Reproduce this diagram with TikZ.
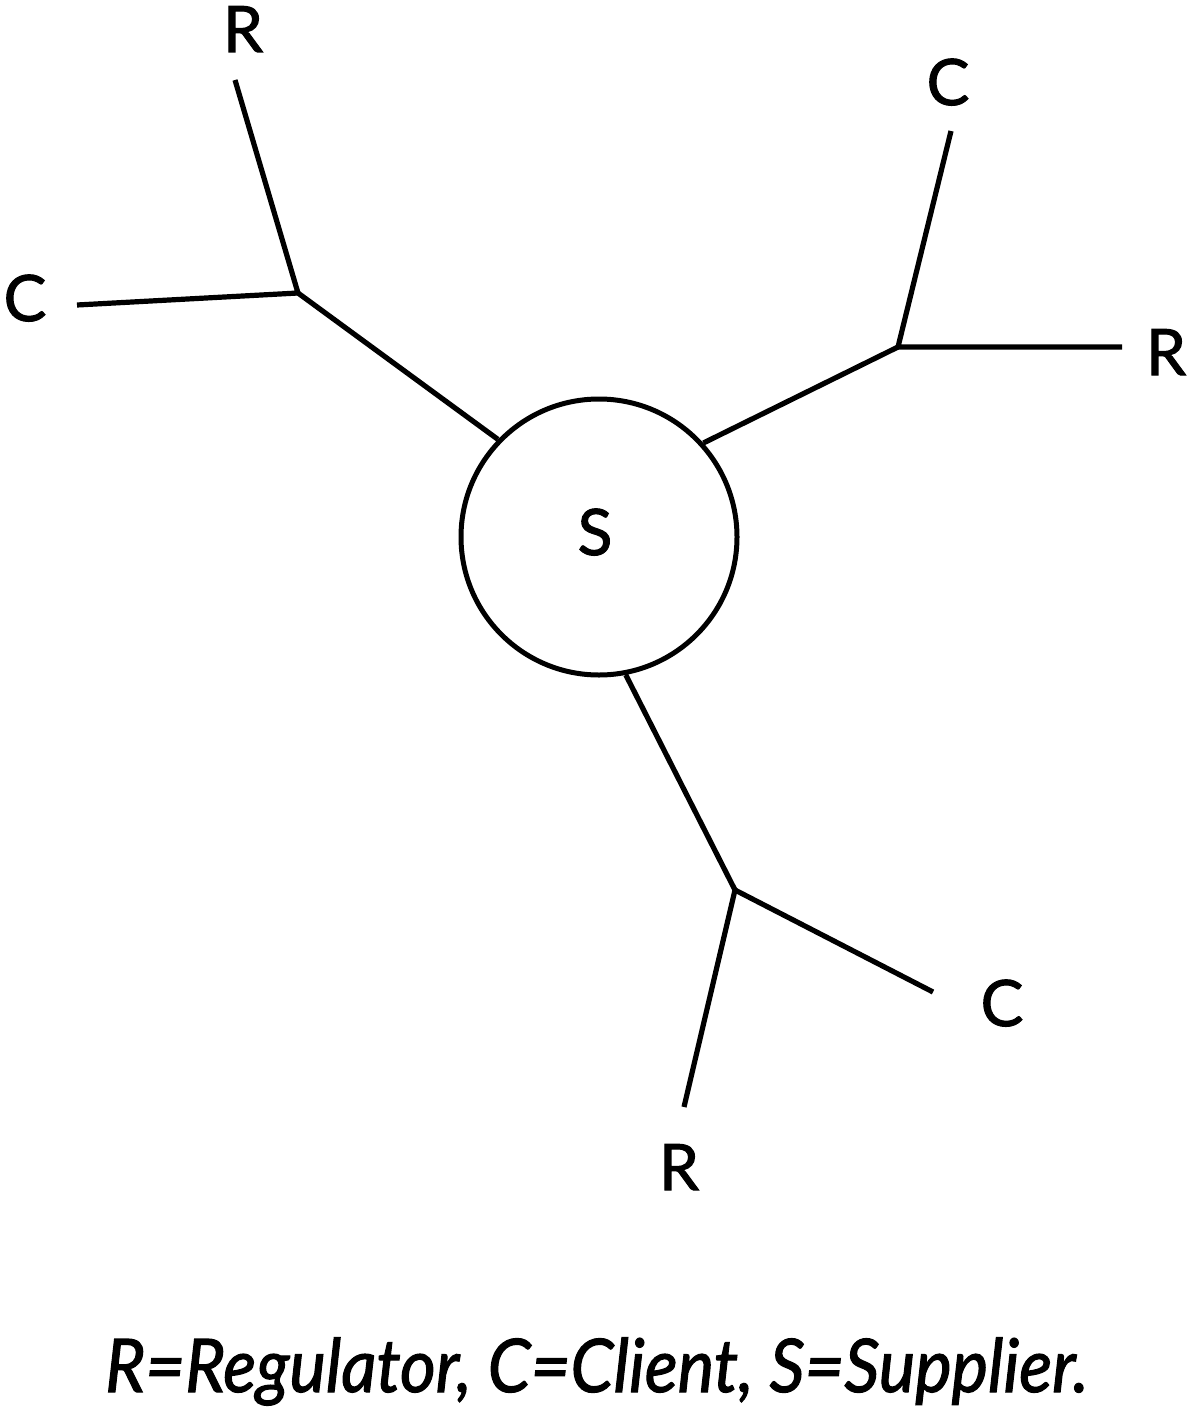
\documentclass[tikz,border=0pt]{standalone}
\usepackage{fontspec}
\usepackage{graphicx}
\setmainfont{Lato}
\newfontfamily\lblfont[FakeBold=1.6]{Lato}
\begin{document}
\begin{tikzpicture}[x=1pt,y=-1pt,
  lbl/.style={anchor=base,inner sep=0pt,font=\lblfont\fontsize{64}{70}\selectfont},
  edge/.style={line width=5.2pt,line cap=butt},
  hub/.style={circle,draw,line width=5pt,minimum size=276pt,inner sep=0pt}]
\useasboundingbox (0,0) rectangle (1190,1410);
% centre
\node[hub] (S) at (599,537) {};
\node[lbl] (Slbl) at (595,555) {S};
% junctions
\coordinate (j1) at (298,293);
\coordinate (j2) at (898,347);
\coordinate (j3) at (735,890);
% free ends
\coordinate (e1r) at (235,80);
\coordinate (e1c) at (77,305);
\coordinate (e2c) at (951,131);
\coordinate (e2r) at (1122,347);
\coordinate (e3c) at (933,992);
\coordinate (e3r) at (684,1107);
% labels
\node[lbl] (r1) at (243,52) {R};
\node[lbl] (c1) at (25,321) {C};
\node[lbl] (c2) at (948,105) {C};
\node[lbl] (r2) at (1166,375) {R};
\node[lbl] (c3) at (1002,1026) {C};
\node[lbl] (r3) at (679,1190) {R};
% connectors
\draw[edge] (S.136.4) -- (j1);
\draw[edge] (e1r) -- (j1) -- (e1c);
\draw[edge] (S.42.7) -- (j2);
\draw[edge] (e2c) -- (j2) -- (e2r);
\draw[edge] (S.-79.2) -- (j3);
\draw[edge] (e3c) -- (j3) -- (e3r);
% caption
\node[anchor=base west,inner sep=0pt,font=\lblfont\fontsize{74}{80}\selectfont\itshape] (cap) at (105,1392)
  {\resizebox{983pt}{\height}{R=Regulator, C=Client, S=Supplier.}};
\end{tikzpicture}
\end{document}
